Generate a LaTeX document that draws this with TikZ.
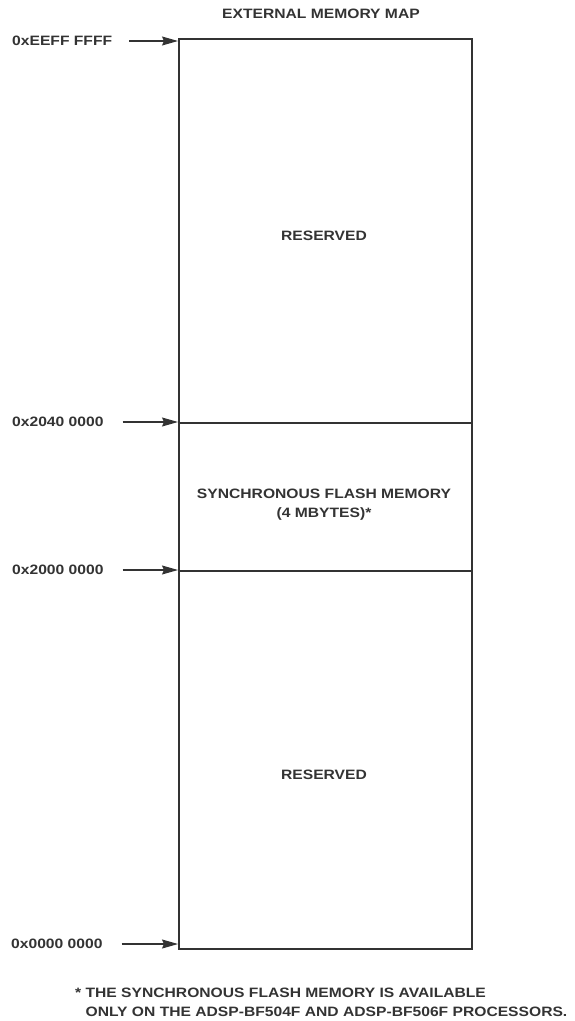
\documentclass[tikz,border=0pt]{standalone}
\usepackage{fontspec}
\setmainfont{Liberation Sans}[FakeStretch=1.15]
\usetikzlibrary{arrows.meta}
\definecolor{ink}{HTML}{333333}
\begin{document}
\begin{tikzpicture}[x=1pt,y=-1pt,
  lbl/.style={font=\bfseries\fontsize{13.6}{19}\selectfont, text=ink, inner sep=0pt, align=center},
  addr/.style={lbl, anchor=west},
  arr/.style={draw=ink, line width=1.1pt, -{Stealth[length=16pt,width=9pt,inset=2pt]}},
  region/.style={draw=ink, line width=1.5pt, minimum width=293pt, inner sep=0pt, anchor=north west}]
\useasboundingbox (0,0) rectangle (574,1021);
% memory regions
\node[region, minimum height=384pt] (top) at (178,38) {};
\node[region, minimum height=148pt] (flash) at (178,422) {};
\node[region, minimum height=378pt] (bot) at (178,570) {};
% texts
\node[lbl] (title) at (321,14) {EXTERNAL MEMORY MAP};
\node[lbl] (res1) at (324,236) {RESERVED};
\node[lbl] (fl) at (324,505) {SYNCHRONOUS FLASH MEMORY\\(4 MBYTES)*};
\node[lbl] (res2) at (324,775) {RESERVED};
% addresses
\node[addr] (a1) at (12,41) {0xEEFF FFFF};
\node[addr] (a2) at (12,422) {0x2040 0000};
\node[addr] (a3) at (12,570) {0x2000 0000};
\node[addr] (a4) at (11,944) {0x0000 0000};
\draw[arr] ([xshift=17pt]a1.east) -- (a1.east -| top.west);
\draw[arr] ([xshift=19pt]a2.east) -- (a2.east -| flash.west);
\draw[arr] ([xshift=19pt]a3.east) -- (a3.east -| bot.west);
\draw[arr] ([xshift=19pt]a4.east) -- (a4.east -| bot.west);
% footnote
\node[lbl, align=left, anchor=north west] (note) at (75,988)
  {* THE SYNCHRONOUS FLASH MEMORY IS AVAILABLE\\\hphantom{* }ONLY ON THE ADSP-BF504F AND ADSP-BF506F PROCESSORS.};
\end{tikzpicture}
\end{document}
